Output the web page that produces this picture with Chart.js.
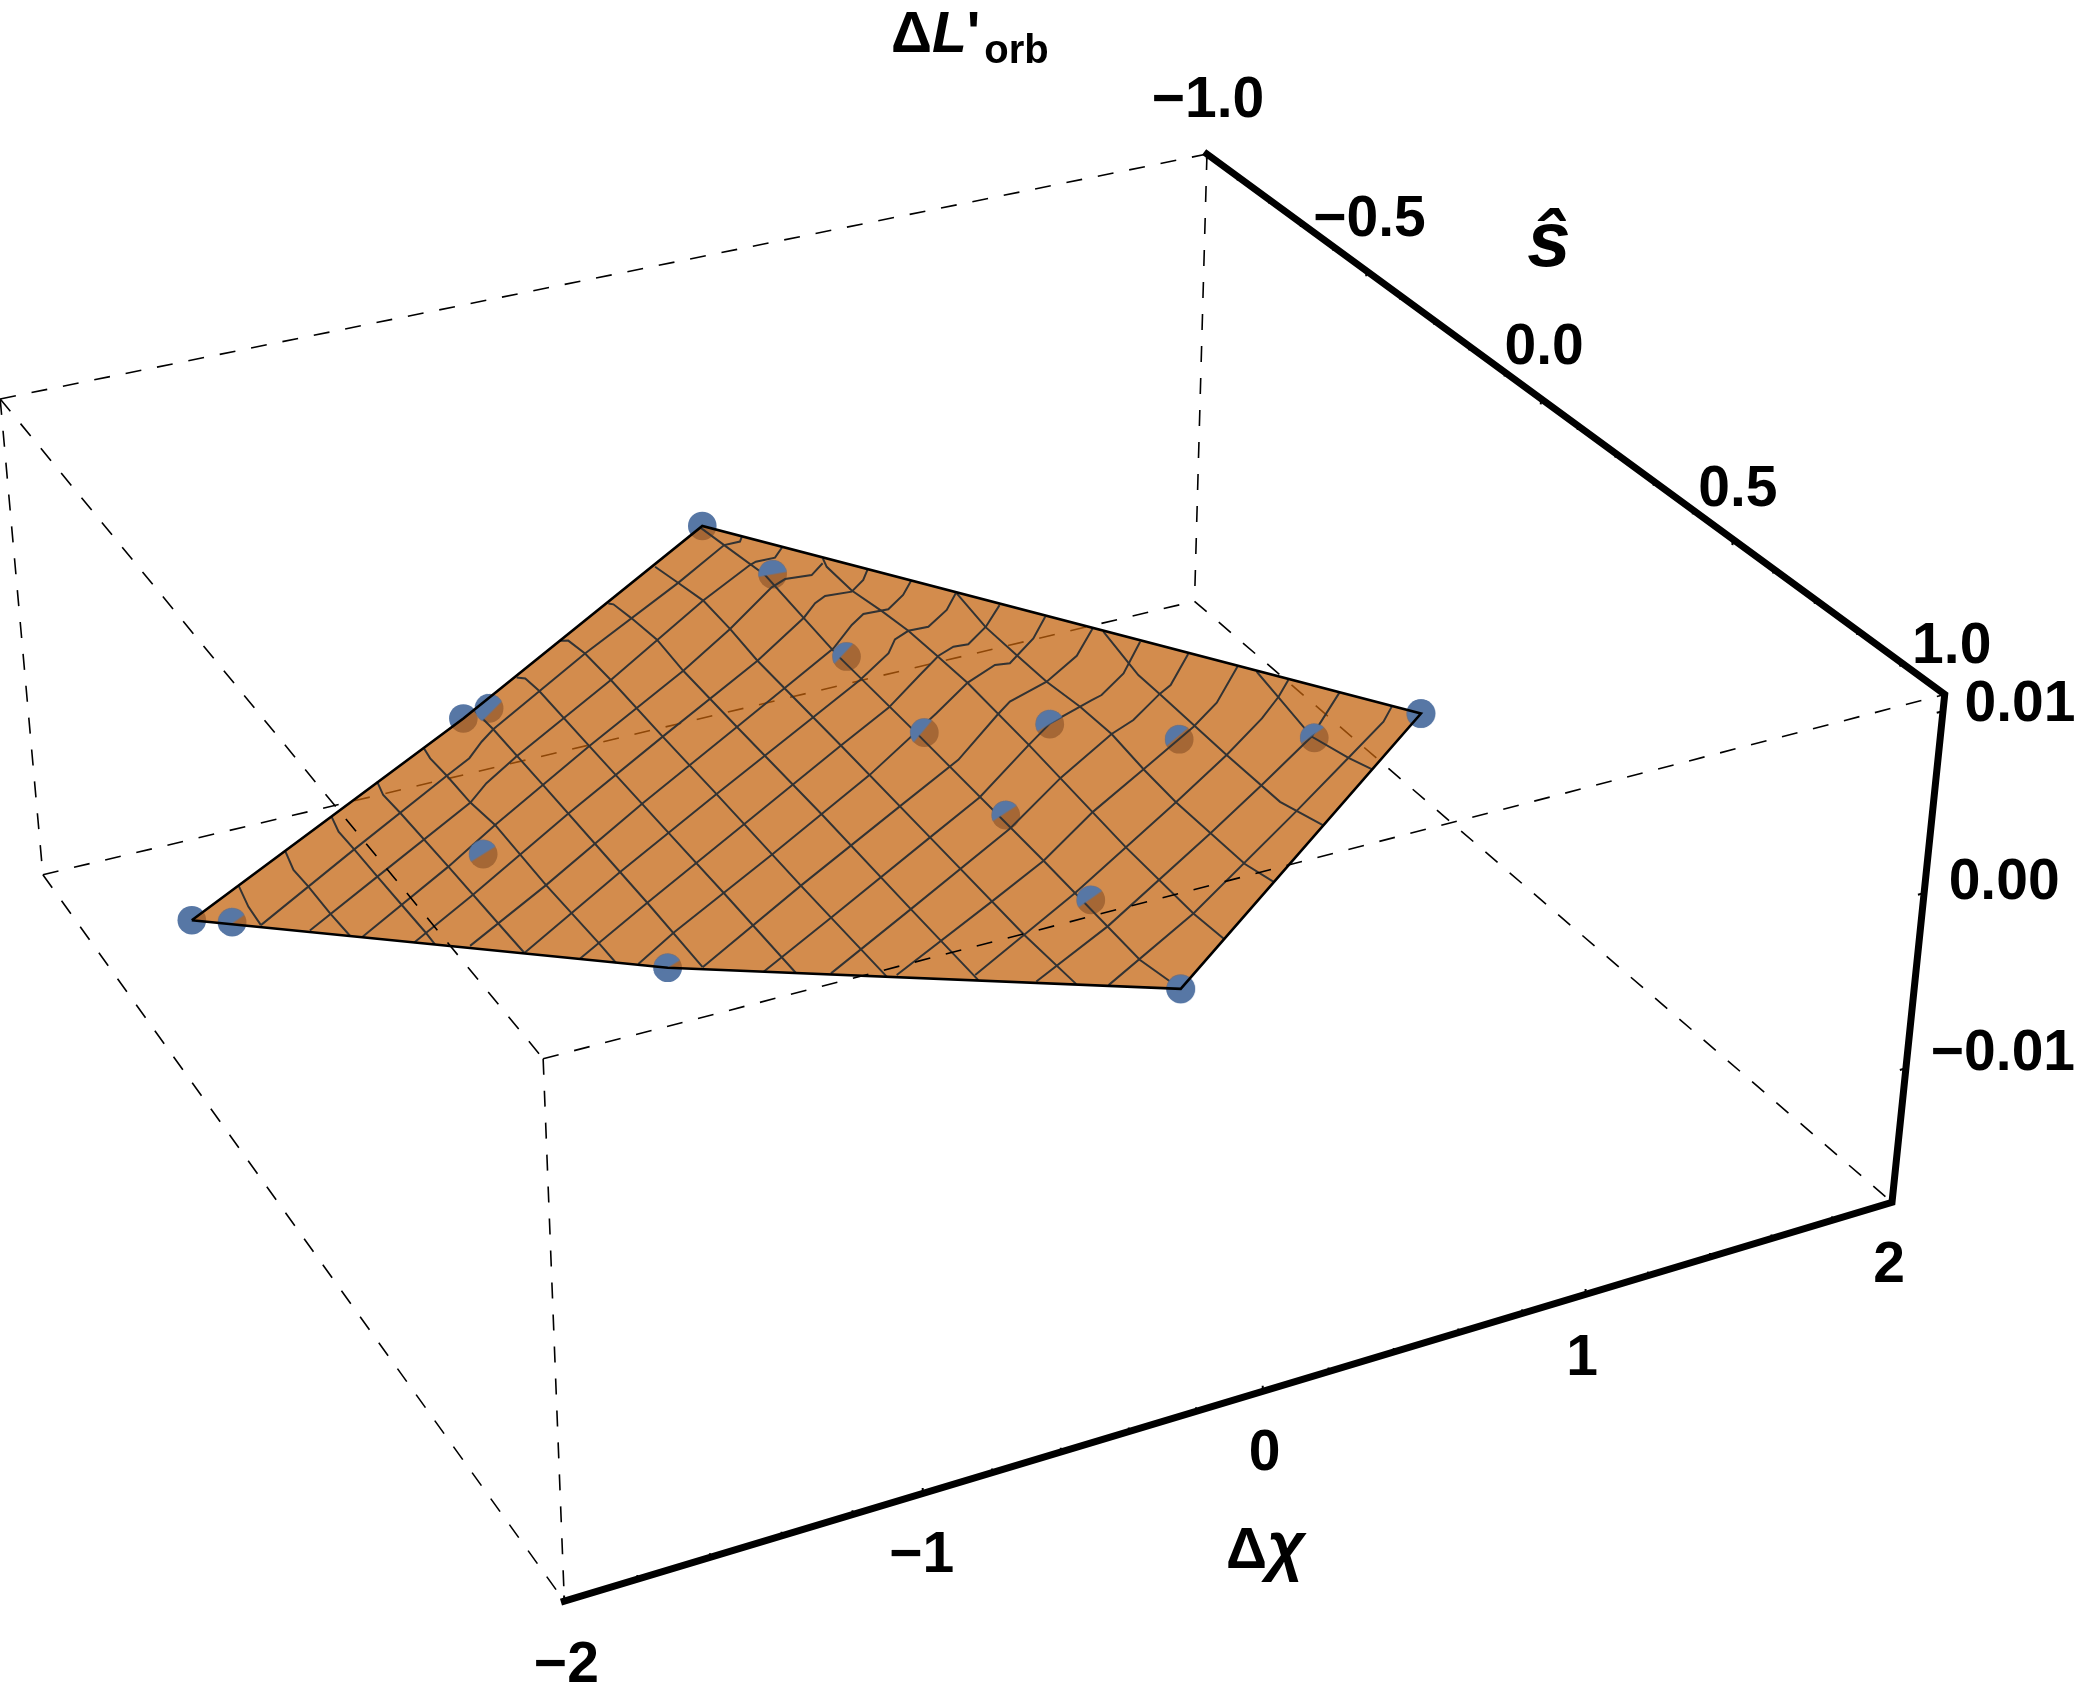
<!DOCTYPE html>
<html>
<head>
<meta charset="utf-8">
<title>ΔL'orb surface</title>
<script src="https://cdn.jsdelivr.net/npm/chart.js@4"></script>
<style>
html, body { margin: 0; background: #fff; }
#wrap { width: 2083px; height: 1697px; }
</style>
</head>
<body>
<div id="wrap"><canvas id="plot" width="2083" height="1697"></canvas></div>
<script>
// Axis ranges and tick labels
const chiRange = [-2, 2];
const sRange = [-1, 1];
const lRange = [-0.0179, 0.0109];
const chiTicks = [-2, -1, 0, 1, 2];
const sTicks = [-1, -0.5, 0, 0.5, 1];
const lTicks = [-0.01, 0, 0.01];
const chiTickLabels = ['\u22122', '\u22121', '0', '1', '2'];
const sTickLabels = ['\u22121.0', '\u22120.5', '0.0', '0.5', '1.0'];
const lTickLabels = ['\u22120.01', '0.00', '0.01'];
const chiMinor = [-1.8, -1.6, -1.4, -1.2, -0.8, -0.6, -0.4, -0.2, 0.2, 0.4, 0.6, 0.8, 1.2, 1.4, 1.6, 1.8];
const sMinor = [-0.9, -0.8, -0.7, -0.6, -0.4, -0.3, -0.2, -0.1, 0.1, 0.2, 0.3, 0.4, 0.6, 0.7, 0.8, 0.9];

// Data points (the surface reads as nearly flat, so one height for all)
const surfaceL = 0.0004;
const dotChi = [-2.217, -2.125, -1.148, -1.060, -1.391, -0.047, 0.008, -0.020, -0.021, -0.029, -0.034, -0.037, 0.317, 0.601, 0.944, 1.284, -1.187];
const dotS = [0.046, 0.075, -0.306, -0.317, 0.058, -0.700, -0.510, -0.230, 0.022, 0.280, 0.533, 0.785, 0.079, 0.199, 0.280, 0.286, 0.439];
// Which data points make the outline of the surface
const hullOrder = [0, 2, 5, 15, 11, 16, 0];

// Mesh lines running along s
const meshAlongS = [
  [[-2.042, -0.013], [-2.058, 0.047], [-2.062, 0.099]],
  [[-1.864, -0.071], [-1.881, -0.017], [-1.877, 0.031], [-1.876, 0.111], [-1.871, 0.178]],
  [[-1.684, -0.129], [-1.697, -0.086], [-1.694, -0.032], [-1.692, 0.050], [-1.689, 0.134], [-1.686, 0.212], [-1.687, 0.248]],
  [[-1.500, -0.192], [-1.513, -0.153], [-1.508, -0.097], [-1.501, 0.068], [-1.496, 0.235], [-1.493, 0.320]],
  [[-1.313, -0.250], [-1.319, -0.220], [-1.315, -0.164], [-1.314, -0.080], [-1.301, -0.008], [-1.304, 0.172], [-1.298, 0.340], [-1.298, 0.397]],
  [[-1.102, -0.319], [-1.097, -0.258], [-1.097, -0.083], [-1.098, 0.097], [-1.099, 0.275], [-1.104, 0.458]],
  [[-0.919, -0.384], [-0.899, -0.376], [-0.893, -0.334], [-0.894, -0.153], [-0.895, 0.117], [-0.895, 0.298], [-0.898, 0.525]],
  [[-0.719, -0.459], [-0.698, -0.454], [-0.686, -0.407], [-0.684, -0.317], [-0.688, -0.132], [-0.689, 0.050], [-0.694, 0.326], [-0.694, 0.587]],
  [[-0.501, -0.534], [-0.490, -0.528], [-0.478, -0.476], [-0.466, -0.400], [-0.476, -0.296], [-0.478, -0.110], [-0.478, 0.165], [-0.485, 0.447], [-0.488, 0.648]],
  [[-0.283, -0.610], [-0.265, -0.550], [-0.245, -0.480], [-0.249, -0.382], [-0.260, -0.276], [-0.263, 0.003], [-0.269, 0.288], [-0.276, 0.576], [-0.269, 0.714]],
  [[-0.057, -0.697], [-0.041, -0.628], [-0.014, -0.513], [-0.028, -0.367], [-0.040, -0.240], [-0.042, 0.019], [-0.051, 0.413], [-0.063, 0.698], [-0.038, 0.784]],
  [[0.185, -0.523], [0.172, -0.496], [0.172, -0.411], [0.194, -0.334], [0.209, -0.261], [0.215, -0.173], [0.220, -0.082], [0.209, 0.119], [0.182, 0.431], [0.177, 0.625], [0.186, 0.699]],
  [[0.440, -0.334], [0.420, -0.220], [0.422, -0.125], [0.425, -0.034], [0.441, 0.053], [0.446, 0.143], [0.430, 0.254], [0.422, 0.353], [0.427, 0.542], [0.449, 0.600]],
  [[0.713, -0.132], [0.688, -0.032], [0.678, 0.007], [0.679, 0.070], [0.676, 0.268], [0.679, 0.416], [0.720, 0.498]],
  [[0.991, 0.074], [0.971, 0.154], [0.941, 0.275], [0.972, 0.351], [0.998, 0.394]]
];

// Mesh lines running across, these are the wavy ones near the back edge
const meshAcross = [
  [[-2.062, 0.099], [-1.694, -0.032], [-1.315, -0.164], [-1.221, -0.196], [-1.154, -0.232], [-1.097, -0.258], [-0.686, -0.407], [-0.263, -0.548], [-0.041, -0.628], [0.011, -0.628], [0.029, -0.641]],
  [[-1.956, 0.141], [-1.692, 0.050], [-1.314, -0.080], [-1.233, -0.120], [-1.100, -0.171], [-0.684, -0.317], [-0.245, -0.480], [-0.027, -0.552], [-0.002, -0.558], [0.060, -0.557], [0.108, -0.583]],
  [[-1.843, 0.187], [-1.501, 0.068], [-1.301, -0.008], [-0.894, -0.153], [-0.476, -0.296], [-0.249, -0.382], [-0.030, -0.473], [0.028, -0.488], [0.109, -0.482], [0.171, -0.509]],
  [[-1.732, 0.231], [-1.500, 0.152], [-1.097, 0.008], [-0.688, -0.132], [-0.260, -0.276], [-0.026, -0.366], [0.041, -0.399], [0.087, -0.413], [0.169, -0.408], [0.232, -0.434], [0.271, -0.460]],
  [[-1.607, 0.272], [-1.304, 0.172], [-0.893, 0.028], [-0.480, -0.110], [-0.032, -0.261], [0.078, -0.314], [0.138, -0.337], [0.216, -0.334], [0.295, -0.365], [0.356, -0.400]],
  [[-1.491, 0.320], [-1.096, 0.184], [-0.689, 0.050], [-0.263, -0.088], [-0.047, -0.158], [0.097, -0.212], [0.151, -0.246], [0.209, -0.261], [0.272, -0.259], [0.367, -0.294], [0.438, -0.335]],
  [[-1.373, 0.366], [-1.099, 0.275], [-0.690, 0.142], [-0.263, 0.003], [-0.046, -0.066], [0.119, -0.133], [0.219, -0.173], [0.282, -0.188], [0.327, -0.185], [0.422, -0.222], [0.519, -0.273]],
  [[-1.248, 0.413], [-1.099, 0.361], [-0.690, 0.233], [-0.264, 0.096], [0.060, -0.021], [0.221, -0.082], [0.339, -0.112], [0.382, -0.107], [0.512, -0.159], [0.605, -0.211]],
  [[-1.104, 0.458], [-0.694, 0.326], [-0.266, 0.193], [-0.006, 0.113], [0.214, 0.020], [0.277, -0.005], [0.425, -0.034], [0.575, -0.084], [0.695, -0.148]],
  [[-0.971, 0.504], [-0.693, 0.419], [-0.269, 0.288], [-0.048, 0.220], [0.209, 0.119], [0.320, 0.077], [0.489, 0.043], [0.528, 0.036], [0.645, -0.007], [0.779, -0.081]],
  [[-0.817, 0.547], [-0.485, 0.447], [-0.052, 0.315], [0.204, 0.221], [0.446, 0.143], [0.539, 0.121], [0.679, 0.070], [0.732, 0.054], [0.867, -0.017]],
  [[-0.667, 0.589], [-0.272, 0.477], [-0.051, 0.413], [0.194, 0.325], [0.429, 0.252], [0.672, 0.176], [0.799, 0.129], [0.957, 0.048]],
  [[-0.484, 0.635], [-0.056, 0.508], [0.422, 0.353], [0.676, 0.268], [0.868, 0.198], [0.973, 0.153], [1.047, 0.116]],
  [[-0.356, 0.685], [-0.057, 0.603], [0.423, 0.449], [0.680, 0.364], [0.941, 0.275], [1.140, 0.181]],
  [[-0.196, 0.735], [0.177, 0.625], [0.695, 0.448], [0.972, 0.351], [1.165, 0.283], [1.231, 0.250]]
];

// Colors
const plotColors = {
    dot: '#5777a5',
    surface: 'rgba(195, 97, 11, 0.73)',
    mesh: '#333333',
    black: '#000000'
};

// Where the box corners land on the page, used to fit the view: [chi, s, L, px, py]
const [chiLo, chiHi] = chiRange;
const [sLo, sHi] = sRange;
const [lLo, lHi] = lRange;
const viewAnchors = [
    [chiHi, sLo, lHi, 1207, 155],
    [chiHi, sHi, lHi, 1945, 693],
    [chiHi, sHi, lLo, 1892, 1203],
    [chiLo, sHi, lLo, 566.5, 1601.5],
    [chiLo, sHi, lHi, 543, 1059],
    [chiLo, sLo, lHi, 0, 399],
    [chiLo, sLo, lLo, 42.5, 874],
    [chiHi, sLo, lLo, 1195, 601],
    [0, sHi, lLo, 1261, 1391],
    [-1, sHi, lLo, 922, 1494]
];

// Gaussian elimination for the normal equations
function solveLinear(A, b) {
    const n = b.length;
    for (let i = 0; i < n; i++) {
        let m = i;
        for (let r = i + 1; r < n; r++) {
            if (Math.abs(A[r][i]) > Math.abs(A[m][i])) m = r;
        }
        [A[i], A[m]] = [A[m], A[i]];
        [b[i], b[m]] = [b[m], b[i]];
        for (let r = i + 1; r < n; r++) {
            const f = A[r][i] / A[i][i];
            for (let k = i; k < n; k++) A[r][k] -= f * A[i][k];
            b[r] -= f * b[i];
        }
    }
    const x = new Array(n).fill(0);
    for (let i = n - 1; i >= 0; i--) {
        let t = b[i];
        for (let k = i + 1; k < n; k++) t -= A[i][k] * x[k];
        x[i] = t / A[i][i];
    }
    return x;
}

function boxCoords(chi, s, L) {
    return [(chi - chiLo) / (chiHi - chiLo), (s - sLo) / (sHi - sLo), (L - lLo) / (lHi - lLo)];
}

// Least squares fit of the perspective view from the anchors
function fitView() {
    const rows = [];
    const rhs = [];
    viewAnchors.forEach(a => {
        const [u, v, w] = boxCoords(a[0], a[1], a[2]);
        const X = a[3], Y = a[4];
        rows.push([u, v, w, 1, 0, 0, 0, 0, -X * u, -X * v, -X * w]);
        rhs.push(X);
        rows.push([0, 0, 0, 0, u, v, w, 1, -Y * u, -Y * v, -Y * w]);
        rhs.push(Y);
    });
    const N = Array.from({ length: 11 }, () => new Array(11).fill(0));
    const B = new Array(11).fill(0);
    rows.forEach((r, i) => {
        for (let a = 0; a < 11; a++) {
            B[a] += r[a] * rhs[i];
            for (let b = 0; b < 11; b++) N[a][b] += r[a] * r[b];
        }
    });
    return solveLinear(N, B);
}

const view = fitView();

function project(chi, s, L) {
    const [u, v, w] = boxCoords(chi, s, L);
    const d = view[8] * u + view[9] * v + view[10] * w + 1;
    return {
        x: (view[0] * u + view[1] * v + view[2] * w + view[3]) / d,
        y: (view[4] * u + view[5] * v + view[6] * w + view[7]) / d
    };
}

// Blue cap of a dot: the part that sits above the surface. [dot, rotation deg, chord shift px]
const dotRadius = 14.3;
const dotCaps = [
    [1, -35, 1], [3, -45, 4], [4, -32, 0], [6, -10, 0], [7, -47, -4], [8, -50, -2],
    [9, -33, -2], [10, -35, -1], [11, 0, 99], [12, -30, 0], [13, -40, -3], [14, -35, -3],
    [15, 0, 99], [16, -32, 0]
];

function capCanvas(shift) {
    const c = document.createElement('canvas');
    const size = Math.ceil(dotRadius * 2) + 2;
    c.width = size;
    c.height = size;
    const ctx = c.getContext('2d');
    ctx.beginPath();
    ctx.rect(0, 0, size, size / 2 + shift);
    ctx.clip();
    ctx.beginPath();
    ctx.arc(size / 2, size / 2, dotRadius, 0, Math.PI * 2);
    ctx.fillStyle = plotColors.dot;
    ctx.fill();
    return c;
}

function linePath(points, extra) {
    return Object.assign({
        data: points,
        showLine: true,
        pointRadius: 0,
        borderColor: plotColors.black,
        borderWidth: 1.6,
        clip: false
    }, extra);
}

function boxEdge(from, to) {
    return [project(...from), project(...to)];
}

// Tick stubs, a stub is a short segment off the axis; NaN breaks the line
function tickStubs() {
    const pts = [];
    const gap = { x: NaN, y: NaN };
    const add = (a, b) => { pts.push(project(...a), project(...b), gap); };
    chiTicks.forEach(t => add([t, sHi, lLo], [t, sHi, lLo + 0.00032]));
    chiMinor.forEach(t => add([t, sHi, lLo], [t, sHi, lLo + 0.00024]));
    sTicks.forEach(t => add([chiHi, t, lHi], [chiHi, t, lHi - 0.00032]));
    sMinor.forEach(t => add([chiHi, t, lHi], [chiHi, t, lHi - 0.00024]));
    lTicks.forEach(t => add([chiHi, sHi, t], [chiHi - 0.02, sHi, t]));
    return pts;
}

const dotPoints = dotChi.map((c, i) => project(c, dotS[i], surfaceL));
const hullPoints = hullOrder.map(i => dotPoints[i]);
const dashed = { borderDash: [16, 16], borderWidth: 1.6 };

const datasets = [
    // black box frame, in front of everything
    linePath([project(chiLo, sHi, lLo), project(chiHi, sHi, lLo), project(chiHi, sHi, lHi), project(chiHi, sLo, lHi)],
        { borderWidth: 7, borderCapStyle: 'square', borderJoinStyle: 'miter', order: 0 }),
    linePath(tickStubs(), { borderWidth: 2, order: 1 }),
    // dashed edges in front of the surface
    linePath(boxEdge([chiLo, sLo, lHi], [chiLo, sHi, lHi]), { ...dashed, order: 2 }),
    linePath(boxEdge([chiLo, sHi, lHi], [chiHi, sHi, lHi]), { ...dashed, order: 2 }),
    linePath(boxEdge([chiLo, sLo, lHi], [chiHi, sLo, lHi]), { ...dashed, order: 2 }),
    linePath(boxEdge([chiLo, sLo, lHi], [chiLo, sLo, lLo]), { ...dashed, order: 2 }),
    linePath(boxEdge([chiLo, sHi, lHi], [chiLo, sHi, lLo]), { ...dashed, order: 2 }),
    linePath(boxEdge([chiHi, sLo, lHi], [chiHi, sLo, lLo]), { ...dashed, order: 2 }),
    linePath(boxEdge([chiLo, sLo, lLo], [chiLo, sHi, lLo]), { ...dashed, order: 2 }),
    // surface outline
    linePath(hullPoints, { borderWidth: 2.6, order: 3 }),
    // blue caps of the dots
    {
        data: dotCaps.map(c => dotPoints[c[0]]),
        pointRadius: dotRadius,
        pointStyle: dotCaps.map(c => capCanvas(c[2])),
        rotation: dotCaps.map(c => c[1]),
        order: 4
    },
    // mesh
    ...meshAlongS.concat(meshAcross).map(line =>
        linePath(line.map(p => project(p[0], p[1], surfaceL)), { borderColor: plotColors.mesh, borderWidth: 2, order: 5 })),
    // translucent surface
    linePath(hullPoints, { borderWidth: 0, backgroundColor: plotColors.surface, fill: 'shape', order: 6 }),
    // whole dots, seen through the surface
    {
        data: dotPoints,
        pointRadius: dotRadius,
        pointBackgroundColor: plotColors.dot,
        pointBorderWidth: 0,
        order: 7
    },
    // dashed edges behind the surface
    linePath(boxEdge([chiLo, sLo, lLo], [chiHi, sLo, lLo]), { ...dashed, order: 8 }),
    linePath(boxEdge([chiHi, sLo, lLo], [chiHi, sHi, lLo]), { ...dashed, order: 8 })
];

// Tick labels: [text, anchor point, dx, dy]
const labelFont = 'bold 57px "Liberation Sans"';
const italicFont = 'italic bold 57px "Liberation Sans"';
const tickLabelDefs = [
    ...chiTicks.map((t, i) => [chiTickLabels[i], project(t, sHi, lLo), [2, -1, 2, -3, -3][i], [81, 79, 79, 81, 80][i]]),
    ...sTicks.map((t, i) => [sTickLabels[i], project(chiHi, t, lHi), [1, 3, 3, 5, 7][i], [-37, -35, -35, -33, -31][i]]),
    ...lTicks.map((t, i) => [lTickLabels[i], project(chiHi, sHi, t), [97, 80, 77][i], [2, 6, 10][i]])
];

// Draw a run of text pieces next to each other
function drawRuns(ctx, x, y, runs) {
    runs.forEach(r => {
        ctx.font = r.font;
        ctx.fillText(r.text, x, y + (r.dy || 0));
        x += ctx.measureText(r.text).width + (r.gap || 0);
    });
}

const labelPlugin = {
    id: 'labelPlugin',
    afterDraw(chart) {
        const ctx = chart.ctx;
        ctx.save();
        ctx.fillStyle = plotColors.black;
        ctx.textBaseline = 'alphabetic';
        ctx.textAlign = 'center';
        ctx.font = labelFont;
        tickLabelDefs.forEach(d => ctx.fillText(d[0], d[1].x + d[2], d[1].y + d[3]));
        ctx.font = 'italic bold 78px "Liberation Sans"';
        ctx.fillText('\u015d', 1549, 266);
        ctx.textAlign = 'left';
        drawRuns(ctx, 1226, 1568, [
            { text: '\u0394', font: labelFont },
            { text: '\u03c7', font: 'italic bold 66px "Liberation Sans"' }
        ]);
        drawRuns(ctx, 891, 52, [
            { text: '\u0394', font: labelFont },
            { text: 'L', font: italicFont },
            { text: '\'', font: labelFont, gap: 4 },
            { text: 'orb', font: 'bold 40px "Liberation Sans"', dy: 11 }
        ]);
        ctx.restore();
    }
};

new Chart(document.getElementById('plot').getContext('2d'), {
    type: 'scatter',
    data: { datasets: datasets },
    options: {
        responsive: false,
        animation: false,
        events: [],
        layout: { padding: 0, autoPadding: false },
        plugins: { legend: { display: false }, tooltip: { enabled: false } },
        scales: {
            x: { type: 'linear', display: false, min: 0, max: 2083 },
            y: { type: 'linear', display: false, min: 0, max: 1697, reverse: true }
        }
    },
    plugins: [labelPlugin]
});
</script>
</body>
</html>
